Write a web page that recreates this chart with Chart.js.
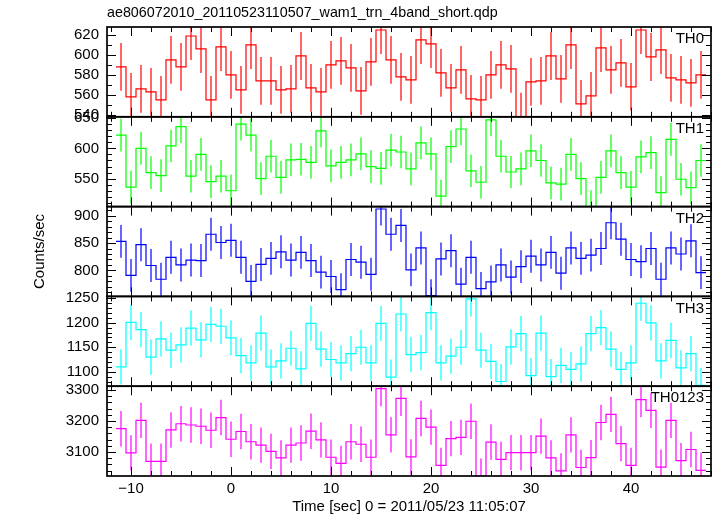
<!DOCTYPE html>
<html>
<head>
<meta charset="utf-8">
<script src="https://cdn.jsdelivr.net/npm/chart.js@4.4.0/dist/chart.umd.min.js"></script>
<style>
  html, body { margin: 0; padding: 0; background: #fff; }
  #wrap { width: 717px; height: 516px; }
</style>
</head>
<body>
<div id="wrap"><canvas id="lc"></canvas></div>
<script>
const plotTitle = 'ae806072010_20110523110507_wam1_trn_4band_short.qdp';
const xTitle = 'Time [sec] 0 = 2011/05/23 11:05:07';
const yTitle = 'Counts/sec';

// bin centres (sec)
const timeBins = [-11, -10, -9, -8, -7, -6, -5, -4, -3, -2, -1, 0, 1, 2, 3, 4, 5, 6, 7, 8,
  9, 10, 11, 12, 13, 14, 15, 16, 17, 18, 19, 20, 21, 22, 23, 24, 25, 26, 27, 28,
  29, 30, 31, 32, 33, 34, 35, 36, 37, 38, 39, 40, 41, 42, 43, 44, 45, 46, 47];

const th0 = [588, 558, 566, 563, 555, 595, 588, 619, 606, 555, 608, 580, 565, 610, 574, 574, 565, 566, 599, 567,
  563, 590, 594, 587, 564, 593, 625, 595, 578, 575, 615, 611, 582, 567, 585, 556, 555, 580, 590, 586,
  538, 573, 574, 599, 576, 610, 551, 559, 607, 585, 592, 568, 625, 598, 605, 577, 575, 572, 580];
const th1 = [622, 536, 600, 560, 555, 604, 636, 554, 590, 545, 554, 530, 640, 622, 550, 587, 552, 581, 582, 577,
  629, 571, 577, 581, 591, 570, 567, 597, 594, 566, 609, 591, 521, 603, 632, 563, 544, 647, 587, 561,
  566, 596, 580, 543, 541, 590, 550, 504, 552, 596, 560, 536, 586, 593, 527, 615, 549, 535, 580];
const th2 = [853, 791, 847, 809, 784, 824, 810, 819, 818, 866, 851, 855, 824, 780, 811, 822, 834, 819, 833, 818,
  797, 789, 765, 820, 815, 793, 912, 866, 882, 801, 841, 754, 821, 836, 775, 824, 767, 779, 810, 788,
  807, 826, 810, 833, 795, 841, 822, 828, 840, 887, 857, 820, 816, 840, 784, 841, 830, 854, 796];
const th3 = [1110, 1201, 1186, 1130, 1167, 1144, 1155, 1189, 1165, 1197, 1193, 1169, 1133, 1118, 1179, 1110, 1122, 1148, 1106, 1199,
  1146, 1125, 1118, 1137, 1150, 1118, 1199, 1089, 1218, 1135, 1139, 1221, 1118, 1132, 1150, 1249, 1144, 1121, 1080, 1151,
  1178, 1092, 1179, 1090, 1113, 1105, 1116, 1178, 1190, 1146, 1105, 1118, 1240, 1200, 1122, 1164, 1108, 1137, 1072];
const th0123 = [3175, 3097, 3202, 3070, 3070, 3171, 3191, 3187, 3183, 3170, 3211, 3141, 3166, 3133, 3122, 3102, 3081, 3122, 3129, 3167,
  3139, 3083, 3063, 3133, 3125, 3083, 3304, 3155, 3273, 3084, 3208, 3180, 3057, 3143, 3147, 3199, 3022, 3132, 3076, 3098,
  3098, 3098, 3151, 3081, 3039, 3155, 3050, 3082, 3195, 3221, 3127, 3057, 3269, 3234, 3051, 3202, 3072, 3108, 3041];

// 1-sigma error per band (roughly constant)
const errTH0 = 24;
const errTH1 = 27;
const errTH2 = 30;
const errTH3 = 36;
const errTH0123 = 57;

const xMajorTicks = [-10, 0, 10, 20, 30, 40];
const th0Ticks = [540, 560, 580, 600, 620];
const th1Ticks = [550, 600, 650];
const th2Ticks = [800, 850, 900];
const th3Ticks = [1100, 1150, 1200, 1250];
const th0123Ticks = [3100, 3200, 3300];

const FONT = "'Liberation Sans', Arial, sans-serif";

// top to bottom
const panels = [
  { id: 'y0', name: 'TH0', values: th0, err: errTH0, color: 'rgb(255,0,0)', min: 538, max: 628, ticks: th0Ticks, minor: 10 },
  { id: 'y1', name: 'TH1', values: th1, err: errTH1, color: 'rgb(0,255,0)', min: 503.8, max: 652.2, ticks: th1Ticks, minor: 10 },
  { id: 'y2', name: 'TH2', values: th2, err: errTH2, color: 'rgb(0,0,255)', min: 752.7, max: 916.4, ticks: th2Ticks, minor: 10 },
  { id: 'y3', name: 'TH3', values: th3, err: errTH3, color: 'rgb(0,255,255)', min: 1070.4, max: 1254, ticks: th3Ticks, minor: 10 },
  { id: 'y4', name: 'TH0123', values: th0123, err: errTH0123, color: 'rgb(255,0,255)', min: 3022.6, max: 3312, ticks: th0123Ticks, minor: 20 }
];

const scales = {
  x: {
    type: 'linear', min: -12.4, max: 48,
    grid: { display: false, drawTicks: false }, border: { display: false },
    afterBuildTicks: s => { s.ticks = xMajorTicks.map(v => ({ value: v })); },
    afterFit: s => { s.height = 40; },
    ticks: {
      color: '#000', padding: 4, maxRotation: 0, autoSkip: false,
      font: { family: FONT, size: 15 },
      callback: v => v < 0 ? '\u2212' + Math.abs(v) : String(v)
    },
    title: { display: true, text: xTitle, color: '#000', padding: 0, font: { family: FONT, size: 15 } }
  }
};

// left boxes get stacked in reverse order, so add the bottom panel first
panels.slice().reverse().forEach(p => {
  scales[p.id] = {
    type: 'linear', position: 'left', stack: 'panels', stackWeight: 1,
    min: p.min, max: p.max,
    grid: { display: false, drawTicks: false }, border: { display: false },
    afterBuildTicks: s => { s.ticks = p.ticks.filter(v => v >= p.min && v <= p.max).map(v => ({ value: v })); },
    afterFit: s => { s.width = 107; },
    ticks: { color: '#000', padding: 8, autoSkip: false, font: { family: FONT, size: 15 }, callback: v => String(v) }
  };
});

// step histogram: each value holds from the left bin edge to the next
const datasets = panels.map(p => {
  const pts = timeBins.map((t, i) => ({ x: t - 0.5, y: p.values[i] }));
  pts.push({ x: timeBins[timeBins.length - 1] + 0.5, y: p.values[p.values.length - 1] });
  return {
    label: p.name, data: pts, yAxisID: p.id,
    borderColor: p.color, borderWidth: 1.2, pointRadius: 0, stepped: 'before', fill: false
  };
});

function crisp(v) { return Math.round(v) + 0.5; }

const panelPlugin = {
  id: 'panelDecor',
  afterDatasetsDraw(chart) {
    // error bars, clipped to each panel
    const ctx = chart.ctx, area = chart.chartArea, xs = chart.scales.x;
    panels.forEach(p => {
      const ys = chart.scales[p.id];
      ctx.save();
      ctx.beginPath();
      ctx.rect(area.left, ys.top, area.right - area.left, ys.bottom - ys.top);
      ctx.clip();
      ctx.beginPath();
      timeBins.forEach((t, i) => {
        const x = Math.round(xs.getPixelForValue(t));
        ctx.moveTo(x, ys.getPixelForValue(p.values[i] - p.err));
        ctx.lineTo(x, ys.getPixelForValue(p.values[i] + p.err));
      });
      ctx.lineWidth = 1.2;
      ctx.strokeStyle = p.color;
      ctx.stroke();
      ctx.restore();
    });
  },
  afterDraw(chart) {
    const ctx = chart.ctx, area = chart.chartArea, xs = chart.scales.x;
    ctx.save();
    ctx.strokeStyle = '#000';
    ctx.fillStyle = '#000';
    panels.forEach(p => {
      const ys = chart.scales[p.id];
      const top = ys.top, bottom = ys.bottom;
      ctx.lineWidth = 1;
      ctx.beginPath();
      // x ticks, inward on top and bottom
      for (let t = -12; t <= 48; t += 2) {
        const x = crisp(xs.getPixelForValue(t));
        const len = (t % 10 === 0) ? 9 : 5;
        ctx.moveTo(x, top); ctx.lineTo(x, top + len);
        ctx.moveTo(x, bottom); ctx.lineTo(x, bottom - len);
      }
      // y ticks, inward on left and right
      const start = Math.ceil(p.min / p.minor) * p.minor;
      for (let v = start; v <= p.max; v += p.minor) {
        const y = crisp(ys.getPixelForValue(v));
        const len = p.ticks.includes(v) ? 9 : 5;
        ctx.moveTo(area.left, y); ctx.lineTo(area.left + len, y);
        ctx.moveTo(area.right, y); ctx.lineTo(area.right - len, y);
      }
      ctx.stroke();
      ctx.lineWidth = 1.7;
      ctx.strokeRect(area.left, top, area.right - area.left, bottom - top);
      // band name
      ctx.font = '15px ' + FONT;
      ctx.textAlign = 'right';
      ctx.textBaseline = 'middle';
      ctx.fillText(p.name, area.right - 7, top + 12);
    });
    // plot title
    ctx.font = '14.3px ' + FONT;
    ctx.textAlign = 'left';
    ctx.textBaseline = 'middle';
    ctx.fillText(plotTitle, area.left, 13);
    // y title, centred on the whole stack
    ctx.translate(40, (area.top + area.bottom) / 2);
    ctx.rotate(-Math.PI / 2);
    ctx.font = '15px ' + FONT;
    ctx.textAlign = 'center';
    ctx.fillText(yTitle, 0, 0);
    ctx.restore();
  }
};

new Chart(document.getElementById('lc'), {
  type: 'line',
  data: { datasets },
  options: {
    responsive: true, maintainAspectRatio: false, animation: false,
    layout: { padding: { top: 27, right: 6, bottom: 0, left: 0 } },
    plugins: { legend: { display: false }, tooltip: { enabled: false } },
    scales
  },
  plugins: [panelPlugin]
});
</script>
</body>
</html>
